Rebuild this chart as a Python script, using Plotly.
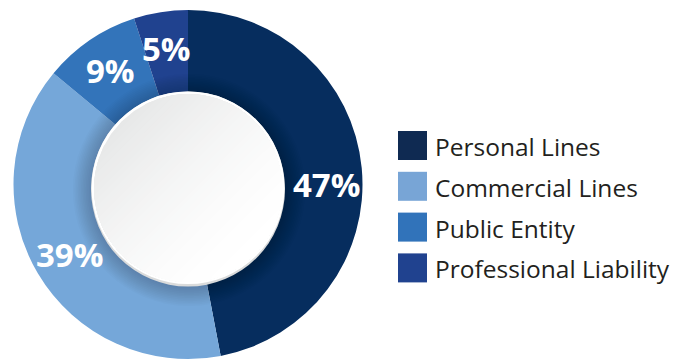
import math
import plotly.graph_objects as go

# Share of premium by line of business (percent)
categories = ["Personal Lines", "Commercial Lines", "Public Entity", "Professional Liability"]
shares = [47, 39, 9, 5]
colors = ["#062D5E", "#75A7D9", "#3374BA", "#20428F"]
legend_colors = ["#0F2A52", "#78A5D6", "#3173BA", "#20428F"]

W, H = 689, 360
CX, CY, R = 188.0, 184.5, 174.5     # donut centre and outer radius (px)
DISC_CX, DISC_CY, DISC_R = 188.0, 188.0, 97.0   # raised centre disc (px)


def px(x):
    return x / W


def py(y):
    return 1 - y / H


fig = go.Figure()
fig.add_trace(go.Pie(
    labels=categories,
    values=shares,
    marker=dict(colors=colors, line=dict(width=0)),
    sort=False,
    direction="clockwise",
    rotation=0,
    hole=0.5,
    textinfo="none",
    hoverinfo="label+percent",
    showlegend=False,
    domain=dict(x=[px(CX - R), px(CX + R)], y=[py(CY + R), py(CY - R)]),
))

shapes = []

# soft shadow cast by the centre disc onto the ring
for k in range(12, 0, -1):
    r = DISC_R + 1.6 * k
    shapes.append(dict(
        type="circle", xref="paper", yref="paper", layer="above",
        x0=px(DISC_CX + 1 - r), x1=px(DISC_CX + 1 + r),
        y0=py(DISC_CY + 2 + r), y1=py(DISC_CY + 2 - r),
        fillcolor="rgba(0,0,0,0.014)", line=dict(width=0),
    ))

# rim of the disc
shapes.append(dict(
    type="circle", xref="paper", yref="paper", layer="above",
    x0=px(DISC_CX - DISC_R), x1=px(DISC_CX + DISC_R),
    y0=py(DISC_CY + DISC_R + 1.5), y1=py(DISC_CY - DISC_R + 0.5),
    fillcolor="#DADBDB", line=dict(width=0),
))
shapes.append(dict(
    type="circle", xref="paper", yref="paper", layer="above",
    x0=px(DISC_CX - DISC_R + 0.5), x1=px(DISC_CX + DISC_R - 0.5),
    y0=py(DISC_CY + DISC_R - 1), y1=py(DISC_CY - DISC_R + 0.5),
    fillcolor="#FFFFFF", line=dict(width=0),
))

# diagonal light-grey to white gradient on the disc face, built from stacked caps
face_r = DISC_R - 3.0
d = (1 / math.sqrt(2), 1 / math.sqrt(2))      # towards bottom-right
steps = 40
g0 = (0xE7, 0xE8, 0xE8)
for i in range(steps):
    t = -face_r + 2 * face_r * i / steps
    s = i / steps
    w = (1 - s) ** 1.6
    col = "rgb({},{},{})".format(*[round(255 - (255 - c) * w) for c in g0])
    half = math.acos(max(-1.0, min(1.0, t / face_r)))
    base = math.atan2(d[1], d[0])
    pts = []
    n = 36
    for j in range(n + 1):
        a = base - half + 2 * half * j / n
        pts.append((DISC_CX + face_r * math.cos(a), DISC_CY + face_r * math.sin(a)))
    path = "M " + " L ".join(f"{px(x):.5f},{py(y):.5f}" for x, y in pts) + " Z"
    shapes.append(dict(
        type="path", xref="paper", yref="paper", layer="above",
        path=path, fillcolor=col, line=dict(width=0),
    ))

# percentage labels at each slice's mid-angle (largest one squared to 3 o'clock)
label_nudge_deg = {"Personal Lines": 5.4}
annotations = []
total = sum(shares)
cum = 0
label_r = 138
for name, v in zip(categories, shares):
    mid = (cum + v / 2) / total * 2 * math.pi + math.radians(label_nudge_deg.get(name, 0))
    cum += v
    x = CX + label_r * math.sin(mid)
    y = CY - label_r * math.cos(mid)
    annotations.append(dict(
        x=px(x), y=py(y), xref="paper", yref="paper",
        text=f"{v}%", showarrow=False, xanchor="center", yanchor="middle",
        font=dict(family="Open Sans", size=33, color="white", weight=700),
    ))

# legend: swatches and names
LEG_X, LEG_Y0, LEG_DY, SW = 398, 145.5, 40.8, 29
for i, (name, col) in enumerate(zip(categories, legend_colors)):
    yc = LEG_Y0 + i * LEG_DY
    shapes.append(dict(
        type="rect", xref="paper", yref="paper", layer="above",
        x0=px(LEG_X), x1=px(LEG_X + SW), y0=py(yc + SW / 2), y1=py(yc - SW / 2),
        fillcolor=col, line=dict(width=0),
    ))
    annotations.append(dict(
        x=px(LEG_X + SW + 6), y=py(yc + 1), xref="paper", yref="paper",
        text=name, showarrow=False, xanchor="left", yanchor="middle",
        font=dict(family="Open Sans", size=24.5, color="#231F20"),
    ))

fig.update_layout(
    width=W, height=H,
    margin=dict(l=0, r=0, t=0, b=0),
    paper_bgcolor="white", plot_bgcolor="white",
    shapes=shapes, annotations=annotations,
    showlegend=False,
)

fig.write_html("out.html")
